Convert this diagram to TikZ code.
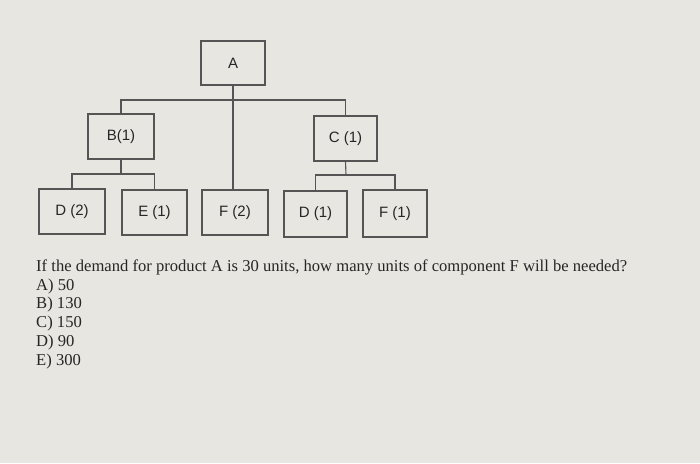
\documentclass[tikz,border=0pt]{standalone}
\usepackage{fontspec}
\setmainfont{Liberation Serif}
\newfontfamily\boxfont{Liberation Sans}
\definecolor{bgc}{HTML}{E7E6E1}
\definecolor{linec}{HTML}{555555}
\definecolor{txtc}{HTML}{262626}
\tikzset{
  part/.style={draw=linec, line width=1.1pt, minimum height=45pt, inner sep=0pt,
    text=txtc, font=\boxfont\fontsize{15}{18}\selectfont},
  link/.style={draw=linec, line width=1.1pt},
  qtext/.style={anchor=base west, inner sep=0pt, text=txtc, font=\fontsize{16.6}{19}\selectfont}
}
\begin{document}
\begin{tikzpicture}[x=1pt,y=-1pt]
\fill[bgc] (0,0) rectangle (700,463);
\useasboundingbox (0,0) rectangle (700,463);
\node[part, minimum width=64pt, minimum height=44pt] (A) at (233,63) {A};
\node[part, minimum width=66pt] (B) at (121,136.5) {B(1)};
\node[part, minimum width=63pt] (C) at (345.5,138.5) {C (1)};
\node[part, minimum width=66pt] (D2) at (72,211.5) {D (2)};
\node[part, minimum width=65pt] (E1) at (154.5,212.5) {E (1)};
\node[part, minimum width=66pt] (F2) at (235,212.5) {F (2)};
\node[part, minimum width=63pt, minimum height=46pt] (D1) at (315.5,214) {D (1)};
\node[part, minimum width=64pt, minimum height=47pt] (F1) at (395,213.5) {F (1)};
\coordinate (jA) at (233,100);
\coordinate (jB) at (121,174);
\coordinate (jC) at (346,175);
\draw[link] (A.south) -- (A.south |- F2.north);
\draw[link] (B.north) |- (jA) -| (C.north);
\draw[link] (B.south) -- (jB);
\draw[link] (D2.north) |- (jB) -| (E1.north);
\draw[link] (C.south) -- (jC);
\draw[link] (D1.north) |- (jC) -| (F1.north);
\node[qtext] (q) at (36,271.7) {If the demand for product A is 30 units, how many units of component F will be needed?};
\node[qtext] (a1) at (36,290) {A) 50};
\node[qtext] (a2) at (36,308.5) {B) 130};
\node[qtext] (a3) at (36,327) {C) 150};
\node[qtext] (a4) at (36,346) {D) 90};
\node[qtext] (a5) at (36,365) {E) 300};
\end{tikzpicture}
\end{document}
